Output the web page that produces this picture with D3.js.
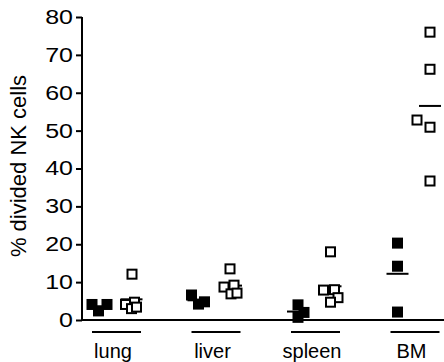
<!DOCTYPE html>
<html>
<head>
<meta charset="utf-8">
<script src="https://cdn.jsdelivr.net/npm/d3@7"></script>
<style>
body { margin: 0; background: #fff; }
text { font-family: "Liberation Sans", Arial, sans-serif; fill: #000; }
</style>
</head>
<body>
<script>
// data
var groups = ["lung", "liver", "spleen", "BM"];
var filledValues = [
	[4.1, 2.4, 4.1],
	[6.6, 4.2, 4.8],
	[4.0, 0.7, 2.0],
	[20.3, 14.2, 2.1]
];
var openValues = [
	[12.1, 4.7, 4.1, 3.0, 3.4],
	[13.5, 8.7, 9.2, 6.9, 7.1],
	[18.0, 7.9, 8.0, 5.9, 4.7],
	[76.0, 66.2, 52.8, 50.9, 36.7]
];
var yTicks = [0, 10, 20, 30, 40, 50, 60, 70, 80];

// scatter spread (px) so the points don't sit on top of each other
var filledSpread = [[-7, -0.5, 8], [-7, 0, 6], [0, 0, 6], [0, 0, 0]];
var openSpread = [[0.5, 3, -6, 0, 5], [-1, -7, 3, 0, 6], [0, -7, 4, 7.5, 0], [0, 0, -13, 0, 0]];

var width = 444, height = 362;
var svg = d3.select("body").append("svg")
	.attr("width", width).attr("height", height);

var y = d3.scaleLinear().domain([0, 80]).range([320, 17]);
var x = d3.scalePoint().domain(groups).range([113, 411.5]);
var col = d3.scalePoint().domain(["filled", "open"]).range([-14, 18.5]);

// axes
var yAxis = svg.append("g")
	.attr("transform", "translate(82,0)")
	.call(d3.axisLeft(y).tickValues(yTicks).tickSize(6).tickPadding(3));
yAxis.select(".domain").attr("d", "M0," + y(80) + "V" + y(0)).attr("stroke-width", 2);
yAxis.selectAll(".tick line").attr("stroke-width", 2);
// the original tick numbers are a bit wider than Arial
yAxis.selectAll(".tick text")
	.attr("x", 0)
	.attr("transform", "translate(-9,0) scale(1.25,1)")
	.style("font-size", "20px");

svg.append("line")
	.attr("x1", 81).attr("x2", 444)
	.attr("y1", y(0)).attr("y2", y(0))
	.attr("stroke", "#000").attr("stroke-width", 2);

svg.append("text")
	.attr("transform", "translate(26," + 166 + ") rotate(-90)")
	.attr("text-anchor", "middle")
	.style("font-size", "22px")
	.text("% divided NK cells");

// group underline + label
groups.forEach(function(g) {
	svg.append("line")
		.attr("x1", x(g) - 21).attr("x2", x(g) + 28)
		.attr("y1", 332).attr("y2", 332)
		.attr("stroke", "#000").attr("stroke-width", 2);
	svg.append("text")
		.attr("x", x(g)).attr("y", 358)
		.attr("text-anchor", "middle")
		.style("font-size", "20px")
		.text(g);
});

// mean lines
groups.forEach(function(g, i) {
	[["filled", filledValues[i]], ["open", openValues[i]]].forEach(function(s) {
		var cx = x(g) + col(s[0]);
		var m = d3.mean(s[1]);
		svg.append("line")
			.attr("x1", cx - 11).attr("x2", cx + 11)
			.attr("y1", y(m)).attr("y2", y(m))
			.attr("stroke", "#000").attr("stroke-width", 2);
	});
});

// points
groups.forEach(function(g, i) {
	var cf = x(g) + col("filled");
	svg.selectAll(null).data(filledValues[i]).enter().append("rect")
		.attr("x", function(d, j) { return cf + filledSpread[i][j] - 5.5; })
		.attr("y", function(d) { return y(d) - 5.5; })
		.attr("width", 11).attr("height", 11)
		.attr("fill", "#000");

	var co = x(g) + col("open");
	svg.selectAll(null).data(openValues[i]).enter().append("rect")
		.attr("x", function(d, j) { return co + openSpread[i][j] - 4.5; })
		.attr("y", function(d) { return y(d) - 4.5; })
		.attr("width", 9).attr("height", 9)
		.attr("fill", "#fff").attr("stroke", "#000").attr("stroke-width", 2);
});
</script>
</body>
</html>
